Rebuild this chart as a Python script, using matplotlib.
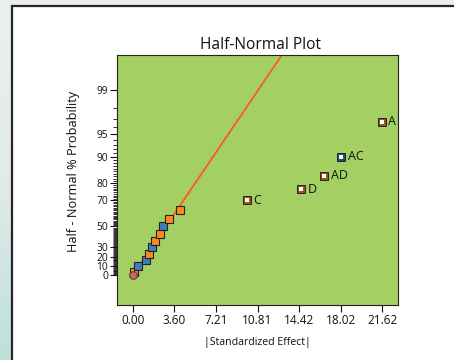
import numpy as np
import matplotlib
matplotlib.use("Agg")
import matplotlib.pyplot as plt
from matplotlib.patches import Rectangle
from matplotlib.colors import LinearSegmentedColormap
from statistics import NormalDist

# ---------------- data ----------------
small_effects = [0.11, 0.41, 1.13, 1.39, 1.62, 1.88, 2.37, 2.60, 3.13, 4.11]
small_prob = [3.3, 10.0, 16.7, 23.3, 30.0, 36.7, 43.3, 50.0, 56.7, 63.3]
small_sign = ['+', '-', '-', '+', '-', '+', '+', '-', '+', '+']

big_names = ['C', 'D', 'AD', 'AC', 'A']
big_effects = [9.87, 14.58, 16.61, 18.08, 21.62]
big_prob = [70.0, 76.7, 83.3, 90.0, 96.7]
big_sign = ['+', '+', '+', '-', '+']

origin_effect = [0.0]
origin_prob = [0.0]

x_ticks = [0.00, 3.60, 7.21, 10.81, 14.42, 18.02, 21.62]
y_ticks = [0, 10, 20, 30, 50, 70, 80, 90, 95, 99]

# ---------------- style ----------------
FONT = ['Open Sans', 'DejaVu Sans']
plt.rcParams['font.family'] = FONT
GREEN = '#a4cf63'
ORANGE = '#ff8a1c'
BLUE = '#3f7cc4'
ORANGE_DK = '#a0521a'
BLUE_DK = '#1f4a78'
LINE = '#ff5a1e'

nd = NormalDist()
_inv = np.vectorize(nd.inv_cdf)
_cdf = np.vectorize(nd.cdf)


def forward(p):
    p = np.asarray(p, dtype=float)
    q = np.clip((1.0 + p / 100.0) / 2.0, 1e-12, 1 - 1e-12)
    return _inv(q)


def inverse(z):
    z = np.asarray(z, dtype=float)
    return 100.0 * (2.0 * _cdf(z) - 1.0)


W, H = 454, 360
fig = plt.figure(figsize=(W / 100, H / 100), dpi=100)

# background: soft gradient + white panel with dark border
bg = fig.add_axes([0, 0, 1, 1])
bg.set_axis_off()
grad = np.linspace(0, 1, 256).reshape(-1, 1)
cmap = LinearSegmentedColormap.from_list('bg', ['#eceff0', '#e2ebea', '#bde0da'])
bg.imshow(grad, aspect='auto', cmap=cmap, extent=[0, 1, 0, 1], origin='upper')
bg.set_xlim(0, 1)
bg.set_ylim(0, 1)
bg.add_patch(Rectangle((11.5 / W, -0.1), 1.2, 1.1 - 6.5 / H,
                       facecolor='white', edgecolor='#262626', linewidth=1.6))

# main axes
ax = fig.add_axes([117 / W, (H - 305) / H, 281 / W, 250 / H])
ax.set_facecolor(GREEN)
ax.set_yscale('function', functions=(forward, inverse))
ax.set_xlim(-1.39, 23.0)
ax.set_ylim(-32.3, 99.776)

# fitted line through the small effects (least squares through origin, in z space)
xs = np.array(small_effects)
zs = forward(small_prob)
slope = np.sum(xs * zs) / np.sum(xs * xs)
xl = np.linspace(0, 23.0, 200)
ax.plot(xl, inverse(slope * xl), color=LINE, lw=1.3, zorder=2)

# small effects
for e, p, s in zip(small_effects, small_prob, small_sign):
    ax.plot([e], [p], marker='s', ms=5.2, mfc=ORANGE if s == '+' else BLUE,
            mec='#222222', mew=0.8, ls='none', zorder=3)

# origin marker
ax.plot(origin_effect, origin_prob, marker='o', ms=5.5, mfc='#c86a6a', mec='#6a3a3a',
        mew=0.8, ls='none', zorder=3)

# labeled effects
for n, e, p, s in zip(big_names, big_effects, big_prob, big_sign):
    ax.plot([e], [p], marker='s', ms=6.4, mfc=ORANGE_DK if s == '+' else BLUE_DK,
            mec='#222222', mew=0.7, ls='none', zorder=3)
    ax.plot([e], [p], marker='s', ms=2.7, mfc='white', mec='white', mew=0,
            ls='none', zorder=4)
    ax.annotate(n, (e, p), xytext=(4.6, 0), textcoords='offset points',
                ha='left', va='center', fontsize=9, color='#111111')

ax.set_xticks(x_ticks)
ax.set_xticklabels([f'{v:.2f}' for v in x_ticks])
ax.set_yticks(y_ticks)
ax.set_yticklabels([str(v) for v in y_ticks])
minor = [v for v in range(1, 99) if v not in y_ticks]
ax.set_yticks(minor, minor=True)
ax.tick_params(axis='both', which='major', length=5, width=0.8,
               color='#111111', labelcolor='#111111', pad=1.5)
ax.tick_params(axis='x', which='major', labelsize=8.5)
ax.tick_params(axis='y', which='major', labelsize=7.4)
ax.tick_params(axis='y', which='minor', length=3, width=0.6, color='#111111')
ax.tick_params(axis='x', which='minor', length=0)
for sp in ax.spines.values():
    sp.set_linewidth(0.8)
    sp.set_color('#222222')

fig.text(261 / W, 1 - 45 / H, 'Half-Normal Plot', ha='center', va='center',
         fontsize=11.2, color='#111111')
fig.text(73 / W, 1 - 171 / H, 'Half - Normal % Probability', ha='center', va='center',
         rotation=90, fontsize=9.2, color='#111111')
fig.text(257.5 / W, 1 - 342 / H, '|Standardized Effect|', ha='center', va='center',
         fontsize=7.6, color='#111111')

fig.savefig('out.png', dpi=100)
